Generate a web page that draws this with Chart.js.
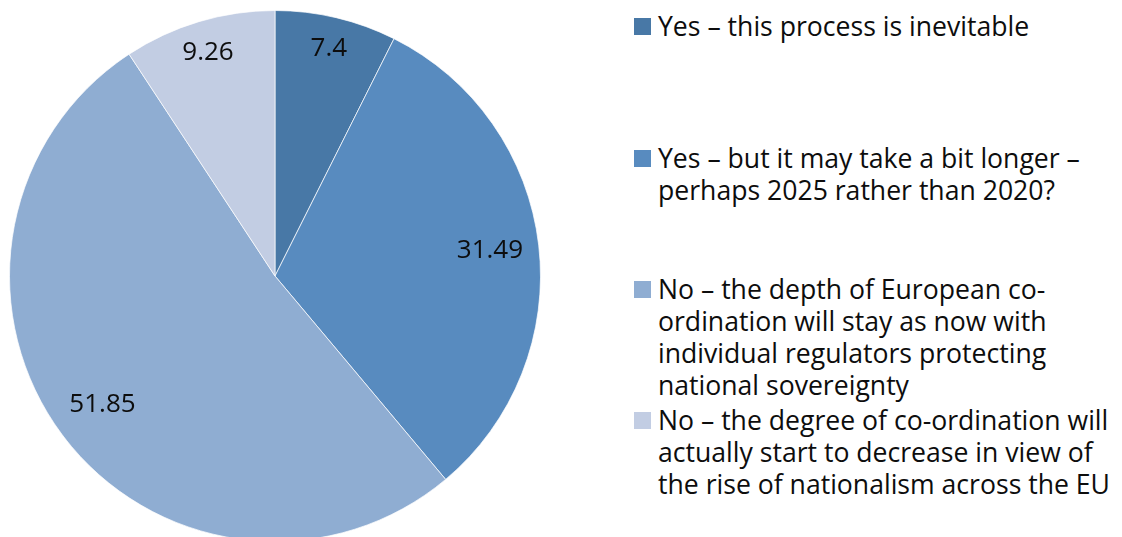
<!DOCTYPE html>
<html>
<head>
<meta charset="utf-8">
<script src="https://cdn.jsdelivr.net/npm/chart.js@4"></script>
<style>
  html, body { margin: 0; padding: 0; background: #fff; overflow: hidden; }
  body { width: 1122px; height: 537px; position: relative; font-family: "Open Sans", sans-serif; }
  #pieWrap { position: absolute; left: 0; top: 0; width: 550px; height: 552px; }
  #legend { position: absolute; left: 634px; top: 0; margin: 0; padding: 0; list-style: none; }
  #legend li { position: absolute; left: 0; white-space: nowrap; font-size: 26.6px; line-height: 32px; color: #0d0d0d; }
  #legend .box { position: absolute; left: 0; top: 8px; width: 17px; height: 17px; }
  #legend .txt { position: absolute; left: 24px; top: 0; }
</style>
</head>
<body>
<div id="pieWrap"><canvas id="pieChart"></canvas></div>
<ul id="legend"></ul>
<script>
const answers = [
    ["Yes \u2013 this process is inevitable"],
    ["Yes \u2013 but it may take a bit longer \u2013", "perhaps 2025 rather than 2020?"],
    ["No \u2013 the depth of European co-", "ordination will stay as now with", "individual regulators protecting", "national sovereignty"],
    ["No \u2013 the degree of co-ordination will", "actually start to decrease in view of", "the rise of nationalism across the EU"]
];
const shares = [7.4, 31.49, 51.85, 9.26];

const sliceColors = ['#4878a6', '#588bbf', '#8fadd2', '#c2cde3'];
// how far out each value label sits, as a part of the radius
const labelRadius = [0.88, 0.815, 0.81, 0.88];
// top of each legend entry in px
const legendTops = [10, 142, 273, 404];

const pieBlock = document.querySelector('#pieChart').getContext('2d');

const valueLabels = {
    id: 'valueLabels',
    afterDatasetsDraw(chart) {
        const ctx = chart.ctx;
        const meta = chart.getDatasetMeta(0);
        ctx.save();
        ctx.font = '26px "Open Sans"';
        ctx.fillStyle = '#0d0d0d';
        ctx.textAlign = 'center';
        ctx.textBaseline = 'middle';
        meta.data.forEach((arc, i) => {
            const mid = (arc.startAngle + arc.endAngle) / 2;
            const r = arc.outerRadius * labelRadius[i];
            ctx.fillText(String(shares[i]), arc.x + Math.cos(mid) * r, arc.y + Math.sin(mid) * r);
        });
        ctx.restore();
    }
};

const buildLegend = () => {
    const list = document.querySelector('#legend');
    answers.forEach((lines, i) => {
        const item = document.createElement('li');
        item.style.top = legendTops[i] + 'px';
        const box = document.createElement('span');
        box.className = 'box';
        box.style.background = sliceColors[i];
        const txt = document.createElement('span');
        txt.className = 'txt';
        txt.innerHTML = lines.join('<br>');
        item.appendChild(box);
        item.appendChild(txt);
        list.appendChild(item);
    });
};

const chart = new Chart(pieBlock, {
    type: 'pie',
    data: {
        labels: answers.map(a => a.join(' ')),
        datasets: [{
            data: shares,
            backgroundColor: sliceColors,
            borderColor: 'rgba(255,255,255,0.7)',
            borderWidth: 1
        }]
    },
    options: {
        responsive: true,
        maintainAspectRatio: false,
        animation: false,
        layout: { padding: { left: 9, right: 9, top: 10, bottom: 10 } },
        plugins: {
            legend: { display: false },
            tooltip: { enabled: false }
        }
    },
    plugins: [valueLabels]
});

buildLegend();
</script>
</body>
</html>
